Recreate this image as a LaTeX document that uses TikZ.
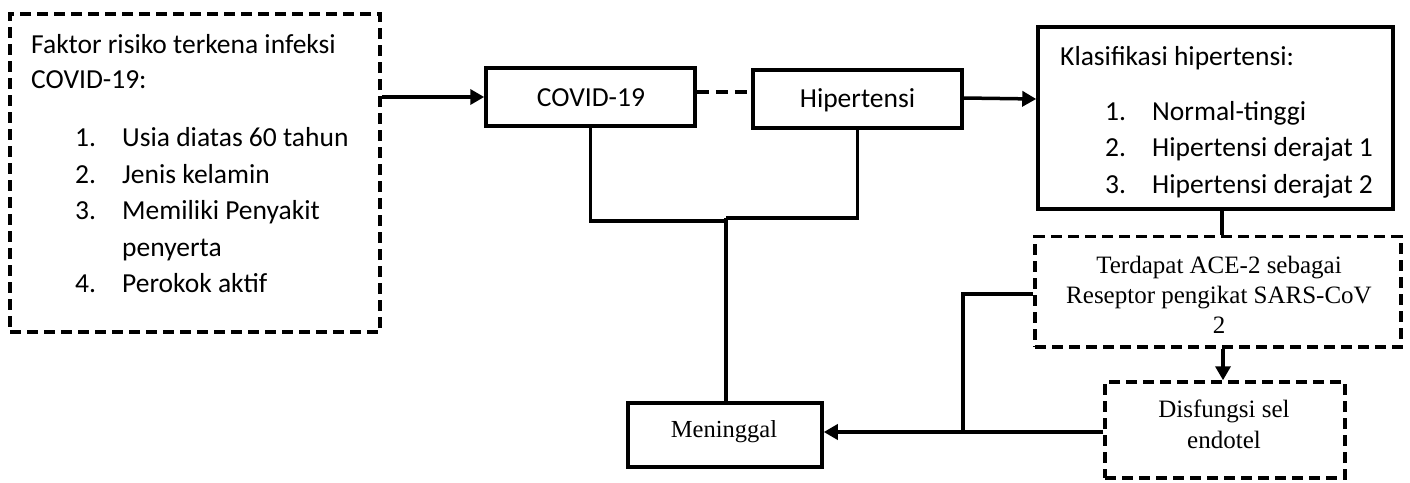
\documentclass[tikz,border=0pt]{standalone}
\usepackage{fontspec}
\setmainfont{Carlito}
\newfontfamily\serifface{Liberation Serif}
\usetikzlibrary{arrows.meta}
\begin{document}
\begin{tikzpicture}[x=1pt,y=-1pt,
  boxsolid/.style={draw, line width=3.5pt, inner sep=0pt, rectangle},
  boxdash/.style={draw, line width=3.5pt, inner sep=0pt, rectangle, dash pattern=on 11pt off 6pt},
  cal/.style={inner sep=0pt, font=\fontsize{27.5}{36.5}\selectfont},
  tms/.style={inner sep=0pt, font=\serifface\fontsize{25}{30}\selectfont},
  tmsm/.style={inner sep=0pt, font=\serifface\fontsize{24.5}{30}\selectfont},
  arr/.style={-{Triangle[length=14pt,width=15pt]}, line width=3.5pt},
  ln/.style={line width=3.5pt}
]
\useasboundingbox (0,0) rectangle (1410,482);
% boxes
\node[boxdash, minimum width=370pt, minimum height=318pt] (risk) at (195,173) {};
\node[boxsolid, minimum width=209pt, minimum height=58pt] (covid) at (590.5,97) {};
\node[boxsolid, minimum width=209pt, minimum height=58pt] (hip) at (857.5,99) {};
\node[boxsolid, minimum width=355pt, minimum height=182pt] (klas) at (1215.5,118) {};
\node[boxdash, minimum width=366pt, minimum height=110.5pt] (ace) at (1218,291.75) {};
\node[boxdash, minimum width=240pt, minimum height=96pt] (dis) at (1225,430) {};
\node[boxsolid, minimum width=194pt, minimum height=64pt] (men) at (725,435) {};
% texts in risk box
\node[cal, anchor=base west] (r0) at (31,53) {Faktor risiko terkena infeksi};
\node[cal, anchor=base west] (r1) at (31,88) {COVID-19:};
\node[cal, anchor=base west] (rn1) at (75,146.5) {1.};
\node[cal, anchor=base west] (rt1) at (122,146.5) {Usia diatas 60 tahun};
\node[cal, anchor=base west] (rn2) at (75,183) {2.};
\node[cal, anchor=base west] (rt2) at (122,183) {Jenis kelamin};
\node[cal, anchor=base west] (rn3) at (75,219.5) {3.};
\node[cal, anchor=base west] (rt3) at (122,219.5) {Memiliki Penyakit};
\node[cal, anchor=base west] (rt3b) at (122,256) {penyerta};
\node[cal, anchor=base west] (rn4) at (75,292.5) {4.};
\node[cal, anchor=base west] (rt4) at (122,292.5) {Perokok aktif};
% covid / hipertensi
\node[cal, anchor=base] (tc) at (591,106) {COVID-19};
\node[cal, anchor=base] (th) at (857.5,107) {Hipertensi};
% klasifikasi
\node[cal, anchor=base west] (k0) at (1060,65) {Klasifikasi hipertensi:};
\node[cal, anchor=base west] (kn1) at (1105,120) {1.};
\node[cal, anchor=base west] (kt1) at (1152,120) {Normal-tinggi};
\node[cal, anchor=base west] (kn2) at (1105,156.5) {2.};
\node[cal, anchor=base west] (kt2) at (1152,156.5) {Hipertensi derajat 1};
\node[cal, anchor=base west] (kn3) at (1105,193) {3.};
\node[cal, anchor=base west] (kt3) at (1152,193) {Hipertensi derajat 2};
% ace
\node[tms, anchor=base] (a1) at (1219,273) {Terdapat ACE-2 sebagai};
\node[tms, anchor=base] (a2) at (1219,303) {Reseptor pengikat SARS-CoV};
\node[tms, anchor=base] (a3) at (1219,333) {2};
% dis
\node[tms, anchor=base] (d1) at (1224,417) {Disfungsi sel};
\node[tms, anchor=base] (d2) at (1224,448) {endotel};
% men
\node[tmsm, anchor=base] (m1) at (724,437) {Meninggal};
% coordinates
\coordinate (jl) at (590.5,221);
\coordinate (jml) at (726,221);
\coordinate (jm) at (726,218);
\coordinate (jr) at (857.5,218);
\coordinate (aw) at ([yshift=-2pt]ace.west);
\coordinate (k) at (963,0);
\coordinate (dw) at ([yshift=-2pt]dis.west);
% connectors
\draw[arr] (risk.east |- covid.west) -- (covid.west);
\draw[ln, dash pattern=on 12pt off 7pt] ([yshift=5pt]covid.east) -- ([yshift=5pt]covid.east -| hip.west);
\draw[arr] ([yshift=1pt]hip.east) -- (klas.west |- hip.east);
\draw[ln] (covid.south) -- (jl) -- (jml);
\draw[ln] (jm) -- (jr) -- (hip.south);
\draw[ln] (jml |- jm) -- (jm |- men.north);
\draw[ln] ([xshift=6.5pt]klas.south) -- ([xshift=6.5pt]klas.south |- ace.north);
\draw[arr] ([xshift=-2pt]dis.north |- ace.south) -- ([xshift=-2pt]dis.north);
\draw[arr] (dw) -- (dw -| men.east);
\draw[ln] (aw) -- (k |- aw) -- (k |- dw);
\end{tikzpicture}
\end{document}
